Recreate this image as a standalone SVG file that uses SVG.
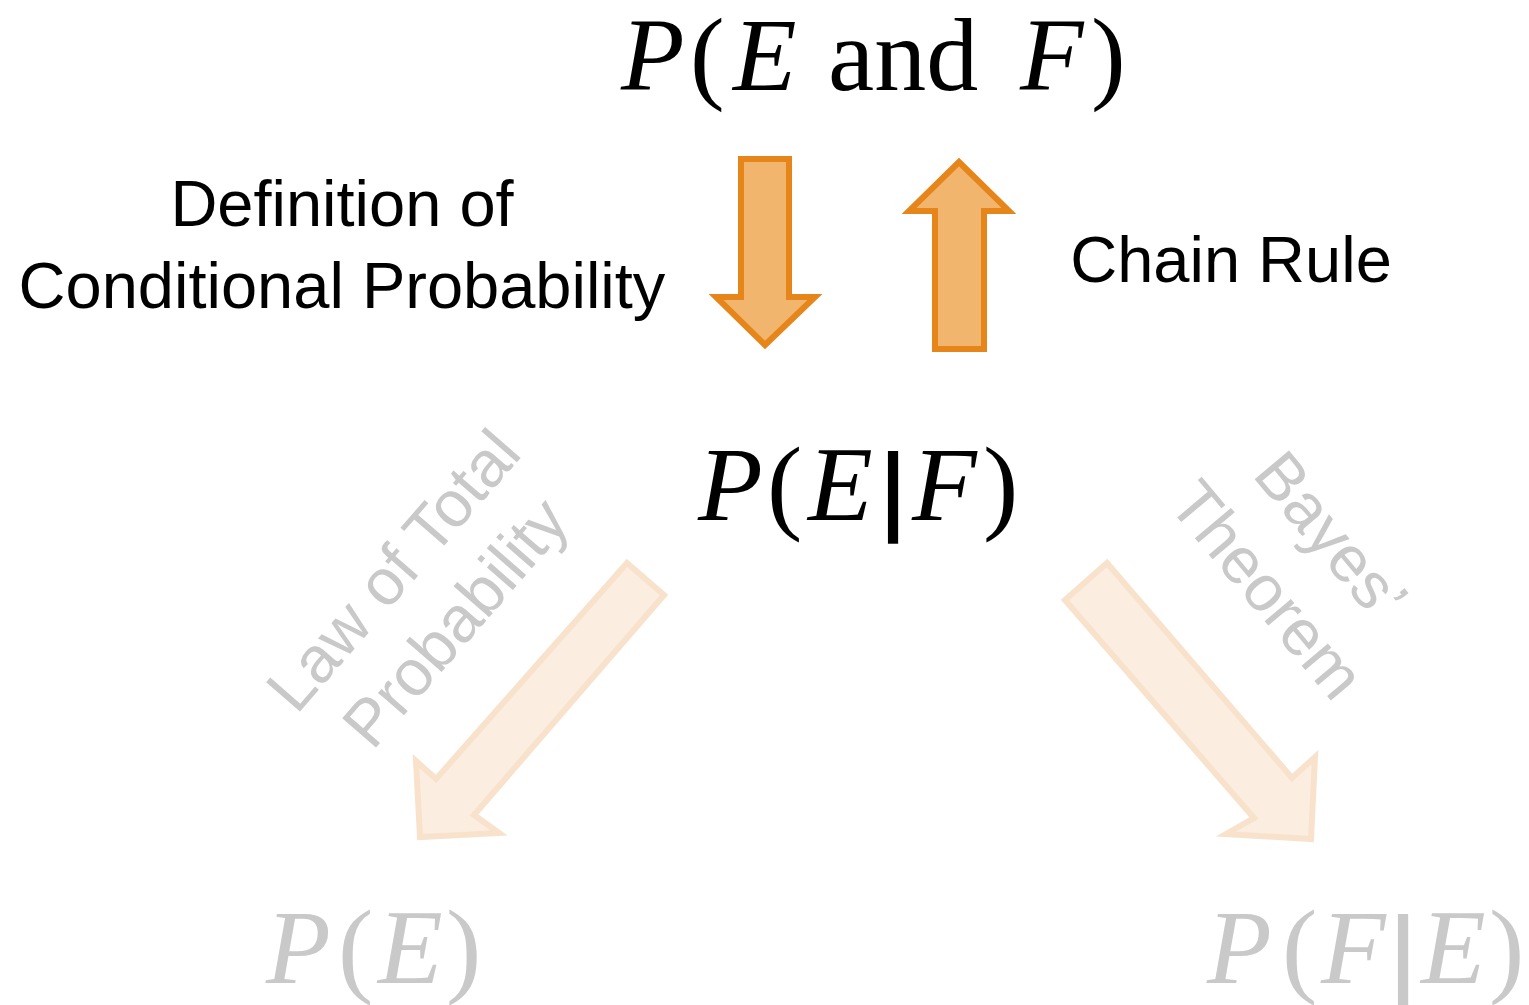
<svg xmlns="http://www.w3.org/2000/svg" width="1529" height="1005" viewBox="0 0 1529 1005">
<style>
.m{font-family:"Liberation Serif","Times New Roman",serif;font-size:106px;fill:#000}
.t{font-size:104px}
.i{font-style:italic}
.g{fill:#C9C9C9}
.bar{font-family:"DejaVu Sans",sans-serif;font-weight:bold;font-size:92px}
.lbl{font-family:"Liberation Sans",Arial,sans-serif;font-size:65px;fill:#000}
.lg{fill:#C9C9C9}
.a{fill:#F2B56D;stroke:#E5851A;stroke-width:6;stroke-linejoin:miter}
.f{fill:#FBEEE0;stroke:#F8E2CB;stroke-width:6;stroke-linejoin:miter}
</style>
<rect width="1529" height="1005" fill="#fff"/>
<g id="connectors">
<polygon class="a" points="741,159 789,159 789,297 815,297 765,345 716,297 741,297"/>
<polygon class="a" points="935,349 984,349 984,211 1009,211 959,162 909,211 935,211"/>
<polygon class="f" points="627,563 664,595 474,815 499,833 420,837 416,761 436,779"/>
<polygon class="f" points="1107,563 1065,600 1254,818 1226,834 1311,839 1315,757 1292,778"/>
</g>
<g id="node-joint">
<text class="m t i" x="621" y="90">P</text>
<text class="m t" x="690" y="90">(</text>
<text class="m t i" x="733" y="90">E</text>
<text class="m t" x="828" y="90">and</text>
<text class="m t i" x="1020" y="90">F</text>
<text class="m t" x="1091" y="90">)</text>
</g>
<g id="node-conditional">
<text class="m i" x="698" y="520">P</text>
<text class="m" x="767" y="520">(</text>
<text class="m i" x="808" y="520">E</text>
<text class="m bar" x="893" y="522" text-anchor="middle">|</text>
<text class="m i" x="912" y="520">F</text>
<text class="m" x="983" y="520">)</text>
</g>
<g id="node-marginal">
<text class="m i g" x="266" y="983">P</text>
<text class="m g" x="338" y="983">(</text>
<text class="m i g" x="378" y="983">E</text>
<text class="m g" x="446" y="983">)</text>
</g>
<g id="node-inverse">
<text class="m i g" x="1207" y="983">P</text>
<text class="m g" x="1282" y="983">(</text>
<text class="m i g" x="1321" y="983">F</text>
<text class="m bar g" x="1403" y="985" text-anchor="middle">|</text>
<text class="m i g" x="1421" y="983">E</text>
<text class="m g" x="1489" y="983">)</text>
</g>
<g id="label-definition">
<text class="lbl" x="342" y="226" text-anchor="middle">Definition of</text>
<text class="lbl" x="342" y="308" text-anchor="middle">Conditional Probability</text>
</g>
<g id="label-chain">
<text class="lbl" x="1231" y="282" text-anchor="middle">Chain Rule</text>
</g>
<g id="label-total">
<text class="lbl lg" text-anchor="middle" transform="translate(410,585) rotate(-49)">Law of Total</text>
<text class="lbl lg" text-anchor="middle" transform="translate(472,637) rotate(-49)">Probability</text>
</g>
<g id="label-bayes">
<text class="lbl lg" text-anchor="middle" transform="translate(1314,550) rotate(50)">Bayes’</text>
<text class="lbl lg" text-anchor="middle" transform="translate(1250,604) rotate(50)">Theorem</text>
</g>
</svg>
